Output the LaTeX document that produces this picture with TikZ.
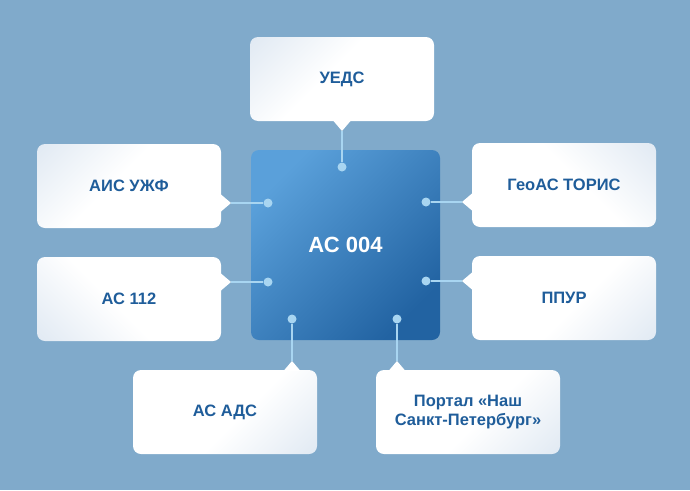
\documentclass[tikz,border=0pt]{standalone}
\usepackage{fontspec}
\setmainfont{Liberation Sans}
\definecolor{bgblue}{HTML}{80AACB}
\definecolor{coretop}{HTML}{5AA0DA}
\definecolor{corebot}{HTML}{2263A2}
\definecolor{textblue}{HTML}{1F5D9A}
\definecolor{linkblue}{HTML}{A8D5F1}
\definecolor{boxtint}{HTML}{D2DFED}
\pgfdeclareverticalshading{boxfade}{100bp}{color(0bp)=(white); color(55bp)=(white); color(100bp)=(boxtint)}

\begin{document}
\begin{tikzpicture}[x=1pt,y=-1pt,
    sys/.style={rectangle,rounded corners=8pt,minimum width=184pt,minimum height=84pt,
      inner sep=0pt,shading=boxfade,text=textblue,align=center,
      font=\fontsize{16.5}{19}\selectfont\bfseries},
    core/.style={rectangle,rounded corners=8pt,minimum width=189pt,minimum height=190pt,
      inner sep=0pt,shading=axis,top color=coretop,bottom color=corebot,shading angle=45,
      text=white,font=\fontsize{22}{26}\selectfont\bfseries},
    tip/.style={fill=white},
    link/.style={draw=linkblue,line width=2pt},
    dot/.style={circle,fill=linkblue,inner sep=0pt,minimum size=9pt}]
  \fill[bgblue] (0,0) rectangle (690,490);

  \node[core] (c) at (345.5,245) {АС 004};

  \node[sys,shading angle=45] (ueds) at (342,79) {УЕДС};
  \node[sys,shading angle=45] (ais) at (129,186) {АИС УЖФ};
  \node[sys,shading angle=135] (as112) at (129,299) {АС 112};
  \node[sys,shading angle=-45] (geo) at (564,185) {ГеоАС ТОРИС};
  \node[sys,shading angle=-135] (ppur) at (564,298) {ППУР};
  \node[sys,shading angle=-135] (ads) at (225,412) {АС АДС};
  \node[sys,shading angle=-135] (portal) at (468,412) {Портал «Наш\\Санкт-Петербург»};

  % pointer tips
  \coordinate (tu) at (342,131);
  \coordinate (ta) at (231,203);
  \coordinate (tb) at (231,282);
  \coordinate (tg) at (462,202);
  \coordinate (tp) at (462,281);
  \coordinate (td) at (292,361);
  \coordinate (tq) at (397,361);
  \fill[tip] (tu) -- ++(-8.5,-10) -- ++(17,0) -- cycle;
  \fill[tip] (ta) -- ++(-10,-8.5) -- ++(0,17) -- cycle;
  \fill[tip] (tb) -- ++(-10,-8.5) -- ++(0,17) -- cycle;
  \fill[tip] (tg) -- ++(10,-8.5) -- ++(0,17) -- cycle;
  \fill[tip] (tp) -- ++(10,-8.5) -- ++(0,17) -- cycle;
  \fill[tip] (td) -- ++(-8.5,10) -- ++(17,0) -- cycle;
  \fill[tip] (tq) -- ++(-8.5,10) -- ++(17,0) -- cycle;

  \node[dot] (du) at (342,167) {};
  \node[dot] (da) at (268,203) {};
  \node[dot] (db) at (268,282) {};
  \node[dot] (dg) at (426,202) {};
  \node[dot] (dp) at (426,281) {};
  \node[dot] (dd) at (292,319) {};
  \node[dot] (dq) at (397,319) {};

  \draw[link] (du) -- (tu);
  \draw[link] (da) -- (ta);
  \draw[link] (db) -- (tb);
  \draw[link] (dg) -- (tg);
  \draw[link] (dp) -- (tp);
  \draw[link] (dd) -- (td);
  \draw[link] (dq) -- (tq);
\end{tikzpicture}
\end{document}
